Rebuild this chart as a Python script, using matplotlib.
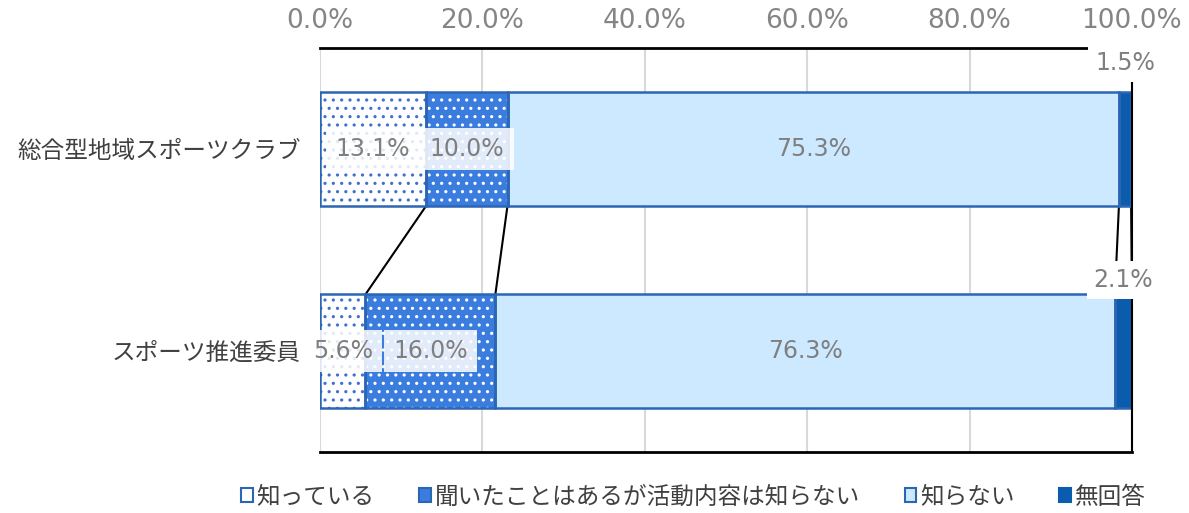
import numpy as np
import matplotlib.pyplot as plt
from matplotlib.patches import Patch

plt.rcParams['font.family'] = ['DejaVu Sans', 'Noto Sans CJK JP']
plt.rcParams['hatch.linewidth'] = 1.1

# data
categories = ['総合型地域スポーツクラブ', 'スポーツ推進委員']
series_names = ['知っている', '聞いたことはあるが活動内容は知らない', '知らない', '無回答']
know = [13.1, 5.6]
heard = [10.0, 16.0]
dont_know = [75.3, 76.3]
no_answer = [1.5, 2.1]
ticks = [0, 20, 40, 60, 80, 100]

values = np.array([know, heard, dont_know, no_answer])

face = ['white', '#3b7ddf', '#cce9ff', '#0b5cad']
dots = ['#3f6fcf', 'white', None, None]
edge = '#2a66b4'
jp = 'Noto Sans CJK JP'
top_offset = [0.145, 0.07]  # no-answer labels sit above the bar

fig = plt.figure(figsize=(11.89, 5.13), dpi=100)
ax = fig.add_axes([0.2691, 0.1189, 0.9520 - 0.2691, 0.9064 - 0.1189])

y = np.arange(len(categories))
h = 0.56
left = np.zeros(len(categories))
for i in range(len(series_names)):
    ax.barh(y, values[i], h, left=left, color=face[i], edgecolor=edge,
            linewidth=0, zorder=2)
    if dots[i] is not None:
        ax.barh(y, values[i], h, left=left, facecolor='none', edgecolor=dots[i],
                linewidth=0, hatch='..', zorder=2.1)
    ax.barh(y, values[i], h, left=left, facecolor='none', edgecolor=edge,
            linewidth=1.8, zorder=2.2)
    for j in range(len(categories)):
        v = values[i][j]
        cx = left[j] + v / 2
        if i < 2:
            ax.text(cx, y[j], f'{v:.1f}%', ha='center', va='center', fontsize=17,
                    color='#7f7f7f', zorder=5,
                    bbox=dict(boxstyle='square,pad=0.4', fc='white', ec='none', alpha=0.85))
        elif i == 2:
            ax.text(cx, y[j], f'{v:.1f}%', ha='center', va='center', fontsize=17,
                    color='#7f7f7f', zorder=5)
        else:
            ax.text(cx, y[j] - h / 2 - top_offset[j], f'{v:.1f}%', ha='center', va='center',
                    fontsize=17, color='#7f7f7f', zorder=6,
                    bbox=dict(boxstyle='square,pad=0.3', fc='white', ec='none'))
    left = left + values[i]

# series lines
cum = np.cumsum(values, axis=0)
for k in range(len(series_names)):
    ax.plot([cum[k][0], cum[k][1]], [y[0] + h / 2, y[1] - h / 2], color='black',
            linewidth=1.5, zorder=1.8)

ax.set_xlim(0, 100)
ax.set_ylim(1.5, -0.5)
ax.set_xticks(ticks)
ax.set_xticklabels([f'{t:.1f}%' for t in ticks])
ax.xaxis.tick_top()
ax.tick_params(axis='x', length=0, pad=10, labelsize=19, labelcolor='#858585')
ax.set_yticks(y)
ax.set_yticklabels(categories, fontsize=17, color='#404040', family=jp)
ax.tick_params(axis='y', length=0, pad=14)
ax.grid(axis='x', color='#d9d9d9', linewidth=1.5, zorder=0)
ax.set_axisbelow(True)

ax.spines['left'].set_visible(False)
ax.spines['top'].set_linewidth(2)
ax.spines['bottom'].set_linewidth(2)
ax.spines['right'].set_linewidth(1.5)

handles = [Patch(facecolor=face[0], edgecolor=edge, linewidth=1.5),
           Patch(facecolor=face[1], edgecolor=edge, linewidth=1.5),
           Patch(facecolor=face[2], edgecolor=edge, linewidth=1.5),
           Patch(facecolor=face[3], edgecolor=face[3], linewidth=1.5)]
leg = fig.legend(handles, series_names, loc='center', bbox_to_anchor=(0.583, 0.031),
                 ncol=4, frameon=False, handlelength=0.5, handleheight=0.5,
                 handletextpad=0.15, columnspacing=1.9, prop={'family': jp, 'size': 17})
for t in leg.get_texts():
    t.set_color('#404040')

fig.savefig('out.png', dpi=100)
